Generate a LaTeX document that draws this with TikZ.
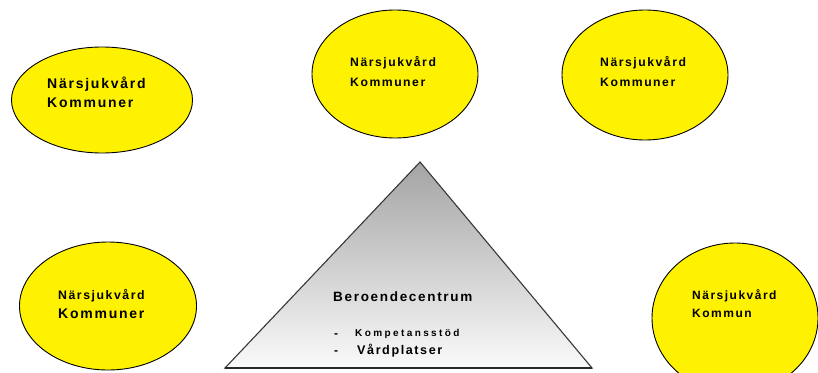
\documentclass[tikz,border=0pt]{standalone}
\usepackage{fontspec}
\newfontfamily\wf[LetterSpace=12.5]{Liberation Sans Bold}
\newfontfamily\wwf[LetterSpace=24]{Liberation Sans Bold}
\usetikzlibrary{shapes.geometric}
\begin{document}
\begin{tikzpicture}[x=1pt,y=-1pt,
  blob/.style={ellipse, draw=black, line width=0.9pt, fill=yellow, inner sep=0pt},
  lbl/.style={anchor=base west, inner sep=0pt},
  tri/.style={draw={rgb,255:red,55;green,55;blue,55}, line width=1.1pt, line join=miter,
    top color={rgb,255:red,164;green,164;blue,164}, bottom color={rgb,255:red,250;green,250;blue,250}}]
\useasboundingbox (0,0) rectangle (818,372);
% ellipses
\node[blob, minimum width=181, minimum height=106] (e1) at (102,100) {};
\node[blob, minimum width=166, minimum height=128] (e2) at (395,74) {};
\node[blob, minimum width=166, minimum height=130] (e3) at (645,75) {};
\node[blob, minimum width=177, minimum height=128] (e4) at (108,306) {};
\node[blob, minimum width=166, minimum height=150] (e5) at (735,318) {};
% labels
\node[lbl, font=\wf\fontsize{14}{17}\selectfont] (t1a) at (47,88) {Närsjukvård};
\node[lbl, font=\wf\fontsize{14}{17}\selectfont] (t1b) at (47,107) {Kommuner};
\node[lbl, font=\wf\fontsize{12.2}{15}\selectfont] (t2a) at (350,66.5) {Närsjukvård};
\node[lbl, font=\wf\fontsize{12.2}{15}\selectfont] (t2b) at (350,86.5) {Kommuner};
\node[lbl, font=\wf\fontsize{12.2}{15}\selectfont] (t3a) at (600,66.5) {Närsjukvård};
\node[lbl, font=\wf\fontsize{12.2}{15}\selectfont] (t3b) at (600,86.5) {Kommuner};
\node[lbl, font=\wf\fontsize{12.3}{15}\selectfont] (t4a) at (58,299.5) {Närsjukvård};
\node[lbl, font=\wf\fontsize{14}{17}\selectfont] (t4b) at (58,318) {Kommuner};
\node[lbl, font=\wf\fontsize{12}{15}\selectfont] (t5a) at (692,299.5) {Närsjukvård};
\node[lbl, font=\wf\fontsize{12}{15}\selectfont] (t5b) at (692,317.5) {Kommun};
% triangle
\coordinate (bl) at (225,368);
\coordinate (apex) at (420,162);
\coordinate (br) at (592,368);
\path[tri] (bl) -- (apex) -- (br) -- cycle;
\draw[line width=1.8pt, draw={rgb,255:red,40;green,40;blue,40}] (bl) -- (br);
\node[lbl, font=\wf\fontsize{13.5}{16}\selectfont] (b) at (333,301.5) {Beroendecentrum};
\node[lbl, font=\wf\fontsize{12}{13}\selectfont] (d1) at (334,337) {-};
\node[lbl, font=\wf\fontsize{12}{13}\selectfont] (d2) at (334,354.5) {-};
\node[lbl, font=\wwf\fontsize{10}{12}\selectfont] (k) at (355,336.4) {Kompetansstöd};
\node[lbl, font=\wf\fontsize{12.6}{15}\selectfont] (v) at (357,354.5) {Vårdplatser};
\end{tikzpicture}
\end{document}
